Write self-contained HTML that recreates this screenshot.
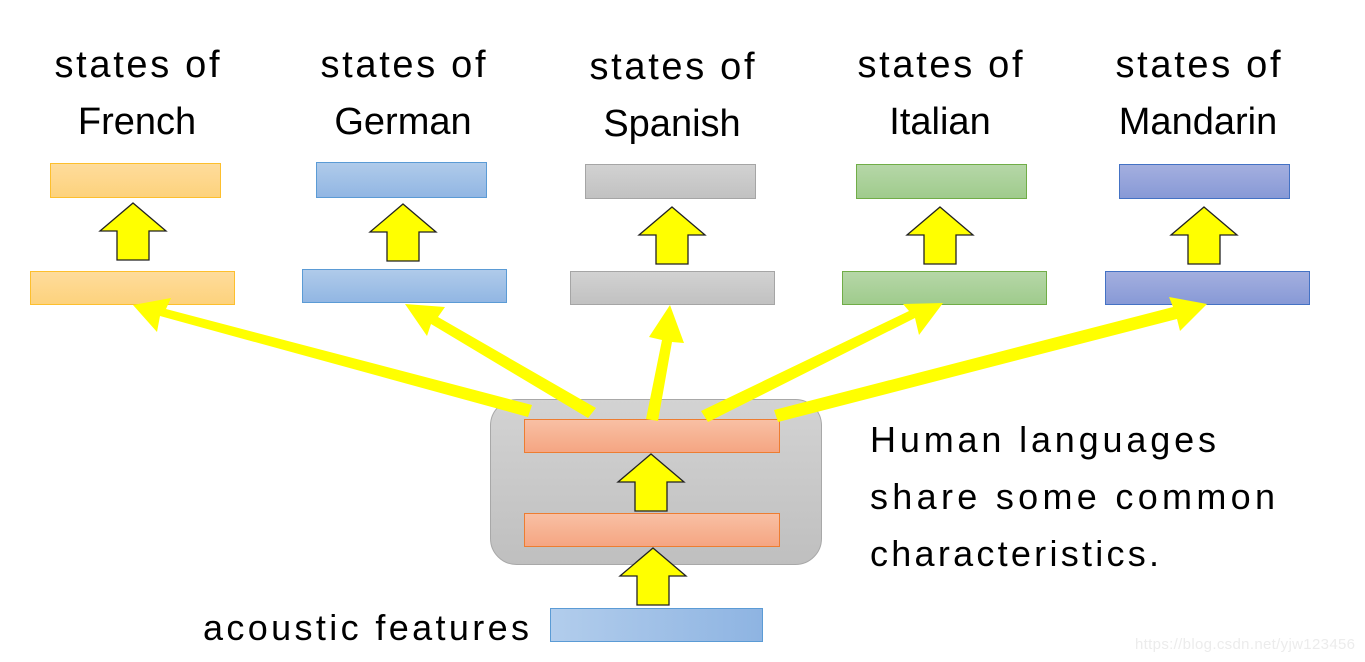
<!DOCTYPE html>
<html><head><meta charset="utf-8"><style>
html,body{margin:0;padding:0;background:#fff;}
svg{display:block;}
text{font-family:"Liberation Sans",sans-serif;fill:#000;}
</style></head><body>
<svg width="1365" height="662" viewBox="0 0 1365 662" xmlns="http://www.w3.org/2000/svg">
<defs>
<linearGradient id="gO" x1="0" y1="0" x2="0" y2="1"><stop offset="0" stop-color="#fedc9c"/><stop offset="1" stop-color="#fdd27c"/></linearGradient>
<linearGradient id="gB" x1="0" y1="0" x2="0" y2="1"><stop offset="0" stop-color="#b0cbea"/><stop offset="1" stop-color="#91b6e3"/></linearGradient>
<linearGradient id="gG" x1="0" y1="0" x2="0" y2="1"><stop offset="0" stop-color="#d2d2d2"/><stop offset="1" stop-color="#c1c1c1"/></linearGradient>
<linearGradient id="gGr" x1="0" y1="0" x2="0" y2="1"><stop offset="0" stop-color="#b6d7a8"/><stop offset="1" stop-color="#9fcb8c"/></linearGradient>
<linearGradient id="gM" x1="0" y1="0" x2="0" y2="1"><stop offset="0" stop-color="#a4afdf"/><stop offset="1" stop-color="#8799d6"/></linearGradient>
<linearGradient id="gR" x1="0" y1="0" x2="0" y2="1"><stop offset="0" stop-color="#f8c0a4"/><stop offset="1" stop-color="#f5a582"/></linearGradient>
<linearGradient id="gBox" x1="0" y1="0" x2="0" y2="1"><stop offset="0" stop-color="#d3d3d3"/><stop offset="1" stop-color="#bfbfbf"/></linearGradient>
<linearGradient id="gA" x1="0" y1="0" x2="1" y2="0"><stop offset="0" stop-color="#b2cdec"/><stop offset="1" stop-color="#8eb4e2"/></linearGradient>
<g id="up"><path d="M0,-28 L33,0 L16,0 L16,29 L-16,29 L-16,0 L-33,0 Z" fill="#ffff00" stroke="#222" stroke-width="1.3"/></g>
</defs>

<g font-size="38" text-anchor="middle">
<text x="137" y="77" textLength="165">states of</text><text x="137" y="134">French</text>
<text x="403" y="77" textLength="165">states of</text><text x="403" y="134">German</text>
<text x="672" y="79" textLength="165">states of</text><text x="672" y="136">Spanish</text>
<text x="940" y="77" textLength="165">states of</text><text x="940" y="134">Italian</text>
<text x="1198" y="77" textLength="165">states of</text><text x="1198" y="134">Mandarin</text>
</g>

<rect x="50.5" y="163.5" width="170" height="34" fill="url(#gO)" stroke="#fdbf2d"/>
<rect x="30.5" y="271.5" width="204" height="33" fill="url(#gO)" stroke="#fdbf2d"/>
<rect x="316.5" y="162.5" width="170" height="35" fill="url(#gB)" stroke="#5b9bd5"/>
<rect x="302.5" y="269.5" width="204" height="33" fill="url(#gB)" stroke="#5b9bd5"/>
<rect x="585.5" y="164.5" width="170" height="34" fill="url(#gG)" stroke="#a5a5a5"/>
<rect x="570.5" y="271.5" width="204" height="33" fill="url(#gG)" stroke="#a5a5a5"/>
<rect x="856.5" y="164.5" width="170" height="34" fill="url(#gGr)" stroke="#70ad47"/>
<rect x="842.5" y="271.5" width="204" height="33" fill="url(#gGr)" stroke="#70ad47"/>
<rect x="1119.5" y="164.5" width="170" height="34" fill="url(#gM)" stroke="#4472c4"/>
<rect x="1105.5" y="271.5" width="204" height="33" fill="url(#gM)" stroke="#4472c4"/>

<use href="#up" x="133" y="231"/>
<use href="#up" x="403" y="232"/>
<use href="#up" x="672" y="235"/>
<use href="#up" x="940" y="235"/>
<use href="#up" x="1204" y="235"/>

<rect x="490.5" y="399.5" width="331" height="165" rx="26" fill="url(#gBox)" stroke="#a8a8a8"/>
<rect x="524.5" y="419.5" width="255" height="33" fill="url(#gR)" stroke="#ed7d31"/>
<rect x="524.5" y="513.5" width="255" height="33" fill="url(#gR)" stroke="#ed7d31"/>
<use href="#up" x="651" y="482"/>
<use href="#up" x="653" y="576"/>
<rect x="550.5" y="608.5" width="212" height="33" fill="url(#gA)" stroke="#5b9bd5"/>

<g fill="#ffff00" stroke="none">
<!-- French -->
<path d="M528,417 L160,316 L157,332 L133,305 L171,298 L166,309 L532,405 Z"/>
<!-- German -->
<path d="M588,418 L431,324 L427,336 L405,304 L445,307 L438,317 L596,408 Z"/>
<!-- Spanish -->
<path d="M646,419 L662,340 L649,337 L670,305 L684,343 L672,342 L658,421 Z"/>
<!-- Italian -->
<path d="M708,422 L915,318 L919,335 L943,303 L903,304 L909,311 L701,411 Z"/>
<!-- Mandarin -->
<path d="M778,422 L1177,319 L1180,331 L1207,304 L1169,297 L1173,307 L774,410 Z"/>
</g>

<g font-size="36">
<text x="870" y="452" textLength="346">Human languages</text>
<text x="870" y="509" textLength="405">share some common</text>
<text x="870" y="566" textLength="289">characteristics.</text>
<text x="203" y="640" textLength="326">acoustic features</text>
</g>
<text x="1135" y="649" font-size="15" style="fill:#ececec" textLength="220">https://blog.csdn.net/yjw123456</text>
</svg>
</body></html>
